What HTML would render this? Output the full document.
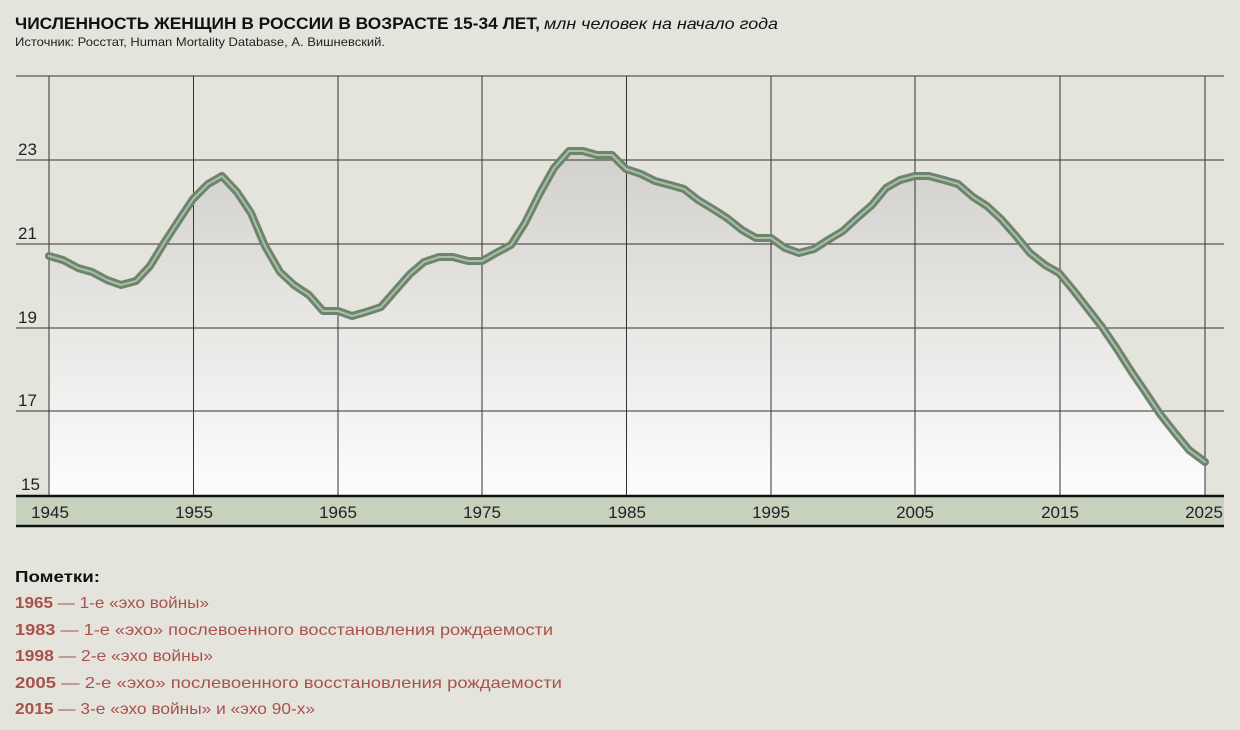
<!DOCTYPE html>
<html><head><meta charset="utf-8"><style>
body{margin:0;background:#e4e3dc;width:1240px;height:730px;overflow:hidden;font-family:"Liberation Sans","DejaVu Sans",sans-serif;}
svg{position:absolute;left:0;top:0}
</style></head><body>
<svg width="1240" height="730" viewBox="0 0 1240 730" xmlns="http://www.w3.org/2000/svg" font-family="Liberation Sans, DejaVu Sans, sans-serif">
<defs><linearGradient id="g" x1="0" y1="150" x2="0" y2="495" gradientUnits="userSpaceOnUse">
<stop offset="0" stop-color="#d2d0cb"/><stop offset="1" stop-color="#fdfdfd"/></linearGradient></defs>
<text x="15" y="29" font-size="17" font-weight="bold" fill="#111" textLength="525" lengthAdjust="spacingAndGlyphs">ЧИСЛЕННОСТЬ ЖЕНЩИН В РОССИИ В ВОЗРАСТЕ 15-34 ЛЕТ,</text>
<text x="544" y="29" font-size="16" font-style="italic" fill="#111" textLength="234" lengthAdjust="spacingAndGlyphs">млн человек на начало года</text>
<text x="15" y="46" font-size="12" fill="#222" textLength="370" lengthAdjust="spacingAndGlyphs">Источник: Росстат, Human Mortality Database, А. Вишневский.</text>
<polygon fill="url(#g)" points="49,495 49,256 63,260 78,268 92,272 107,280 121,285 136,281 150,266 164,243 179,220 193,199 208,184 222,176 237,192 251,213 265,246 280,272 294,285 309,295 323,311 338,311 352,316 366,312 381,307 395,291 410,274 424,262 439,257 453,257 468,261 482,261 496,253 511,245 525,223 540,193 554,168 569,151 583,151 597,155 612,155 626,169 641,174 655,181 670,185 684,189 698,200 713,209 727,218 742,230 756,238 771,238 785,248 799,253 814,249 828,240 843,231 857,218 872,205 886,188 900,180 915,176 929,176 944,180 958,184 973,197 987,206 1001,219 1016,236 1030,253 1045,265 1059,273 1074,291 1088,309 1102,327 1117,349 1131,371 1146,393 1160,414 1175,433 1189,450 1205,462 1205,495"/>
<g stroke="#333" stroke-width="1">
<line x1="16" y1="76" x2="1224" y2="76"/><line x1="16" y1="160" x2="1224" y2="160"/><line x1="16" y1="244" x2="1224" y2="244"/><line x1="16" y1="328" x2="1224" y2="328"/><line x1="16" y1="411" x2="1224" y2="411"/>
<line x1="49" y1="76" x2="49" y2="495"/><line x1="193.5" y1="76" x2="193.5" y2="495"/><line x1="338" y1="76" x2="338" y2="495"/><line x1="482" y1="76" x2="482" y2="495"/><line x1="626.5" y1="76" x2="626.5" y2="495"/><line x1="771" y1="76" x2="771" y2="495"/><line x1="915" y1="76" x2="915" y2="495"/><line x1="1060" y1="76" x2="1060" y2="495"/><line x1="1205" y1="76" x2="1205" y2="495"/>
</g>
<g font-size="17" fill="#222"><text x="18" y="155">23</text><text x="18" y="239">21</text><text x="18" y="323">19</text><text x="18" y="406">17</text><text x="21" y="490">15</text></g>
<rect x="16" y="495" width="1208" height="32" fill="#c6d2bd"/>
<line x1="16" y1="496" x2="1224" y2="496" stroke="#111" stroke-width="2.5"/>
<line x1="16" y1="526" x2="1224" y2="526" stroke="#111" stroke-width="2.5"/>
<g font-size="17" fill="#222" text-anchor="middle"><text x="50" y="518">1945</text><text x="194" y="518">1955</text><text x="338" y="518">1965</text><text x="482" y="518">1975</text><text x="627" y="518">1985</text><text x="771" y="518">1995</text><text x="915" y="518">2005</text><text x="1060" y="518">2015</text><text x="1204" y="518">2025</text></g>
<g fill="none" stroke-linejoin="round" stroke-linecap="round">
<polyline stroke="#6e8370" stroke-width="8" points="49,256 63,260 78,268 92,272 107,280 121,285 136,281 150,266 164,243 179,220 193,199 208,184 222,176 237,192 251,213 265,246 280,272 294,285 309,295 323,311 338,311 352,316 366,312 381,307 395,291 410,274 424,262 439,257 453,257 468,261 482,261 496,253 511,245 525,223 540,193 554,168 569,151 583,151 597,155 612,155 626,169 641,174 655,181 670,185 684,189 698,200 713,209 727,218 742,230 756,238 771,238 785,248 799,253 814,249 828,240 843,231 857,218 872,205 886,188 900,180 915,176 929,176 944,180 958,184 973,197 987,206 1001,219 1016,236 1030,253 1045,265 1059,273 1074,291 1088,309 1102,327 1117,349 1131,371 1146,393 1160,414 1175,433 1189,450 1205,462"/>
<polyline stroke="#a9c3a1" stroke-width="2" points="49,256 63,260 78,268 92,272 107,280 121,285 136,281 150,266 164,243 179,220 193,199 208,184 222,176 237,192 251,213 265,246 280,272 294,285 309,295 323,311 338,311 352,316 366,312 381,307 395,291 410,274 424,262 439,257 453,257 468,261 482,261 496,253 511,245 525,223 540,193 554,168 569,151 583,151 597,155 612,155 626,169 641,174 655,181 670,185 684,189 698,200 713,209 727,218 742,230 756,238 771,238 785,248 799,253 814,249 828,240 843,231 857,218 872,205 886,188 900,180 915,176 929,176 944,180 958,184 973,197 987,206 1001,219 1016,236 1030,253 1045,265 1059,273 1074,291 1088,309 1102,327 1117,349 1131,371 1146,393 1160,414 1175,433 1189,450 1205,462"/>
</g>
<text x="15" y="582" font-size="16" font-weight="bold" fill="#111" textLength="85" lengthAdjust="spacingAndGlyphs">Пометки:</text>
<g font-size="16" fill="#a9524c">
<text x="15" y="608" textLength="194" lengthAdjust="spacingAndGlyphs"><tspan font-weight="bold">1965</tspan> — 1-е «эхо войны»</text>
<text x="15" y="635" textLength="538" lengthAdjust="spacingAndGlyphs"><tspan font-weight="bold">1983</tspan> — 1-е «эхо» послевоенного восстановления рождаемости</text>
<text x="15" y="661" textLength="198" lengthAdjust="spacingAndGlyphs"><tspan font-weight="bold">1998</tspan> — 2-е «эхо войны»</text>
<text x="15" y="688" textLength="547" lengthAdjust="spacingAndGlyphs"><tspan font-weight="bold">2005</tspan> — 2-е «эхо» послевоенного восстановления рождаемости</text>
<text x="15" y="714" textLength="300" lengthAdjust="spacingAndGlyphs"><tspan font-weight="bold">2015</tspan> — 3-е «эхо войны» и «эхо 90-х»</text>
</g>
</svg>
</body></html>
